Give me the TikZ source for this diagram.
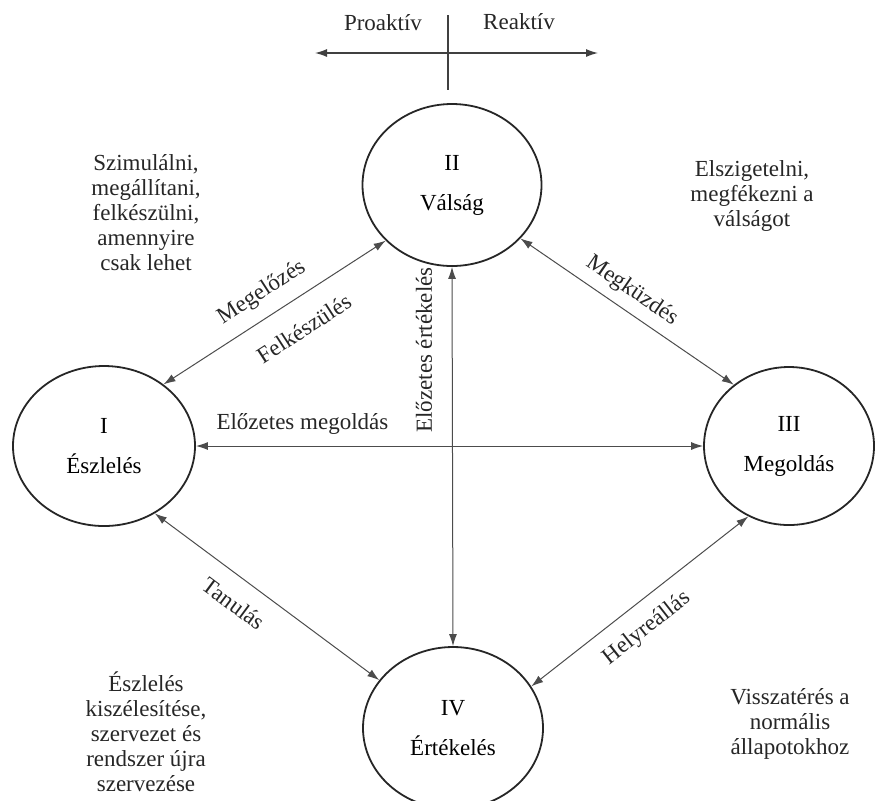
\documentclass[tikz,border=0pt]{standalone}
\usepackage{fontspec}
\setmainfont{Liberation Serif}
\usetikzlibrary{arrows.meta,shapes.geometric}
\tikzstyle{phase}=[draw=black!85, line width=0.9pt, ellipse, align=center, inner sep=0pt]
\tikzstyle{note}=[align=center, text=black!85]
\tikzstyle{link}=[{Latex[length=6pt,width=4pt]}-{Latex[length=6pt,width=4pt]}, draw=black!70, line width=0.5pt]
\tikzstyle{lab}=[sloped, text=black!85]

\begin{document}
\begin{tikzpicture}[x=0.5pt, y=-0.5pt, font=\fontsize{11.5}{12.5}\selectfont]
   \useasboundingbox (0,0) rectangle (876,800);

   % proactive / reactive cross
   \coordinate (pro) at (315,53);
   \coordinate (rea) at (598,53);
   \coordinate (vt) at (448,15);
   \coordinate (vb) at (448,90);
   \draw[{Latex[length=6pt,width=4pt]}-{Latex[length=6pt,width=4pt]}, draw=black!75, line width=0.6pt] (pro) -- (rea);
   \draw[draw=black!75, line width=0.6pt] (vt) -- (vb);
   \node[note] (proak) at (383,23) {Proaktív};
   \node[note] (reak) at (519,22) {Reaktív};

   % the four phases
   \node[phase, minimum width=91pt, minimum height=80pt] (I) at (104,446) {I\\[7.5pt]Észlelés};
   \node[phase, minimum width=89.5pt, minimum height=81pt] (II) at (452,185) {II\\[7.5pt]Válság};
   \node[phase, minimum width=85pt, minimum height=79pt] (III) at (789,446) {III\\[7.5pt]Megoldás};
   \node[phase, minimum width=90pt, minimum height=81pt] (IV) at (453,728) {IV\\[7.5pt]Értékelés};

   % texts beside the phases
   \node[note] (sim) at (146,213) {Szimulálni,\\megállítani,\\felkészülni,\\amennyire\\csak lehet};
   \node[note] (elsz) at (752,196) {Elszigetelni,\\megfékezni a\\válságot};
   \node[note] (eszl) at (146,732) {Észlelés\\kiszélesítése,\\szervezet és\\rendszer újra\\szervezése};
   \node[note] (vissza) at (790,724) {Visszatérés a\\normális\\állapotokhoz};

   % Draw line between each of the phases
   \draw[link] (I.46) -- (II.220)
      node[lab, pos=0.5, above=3pt] (megel) {Megelőzés}
      node[lab, pos=0.56, below=7pt] (felk) {Felkészülés};
   \draw[link] (II.322) -- (III.132) node[lab, pos=0.47, above=1pt] (megk) {Megküzdés};
   \draw[link] (I.307) -- (IV.147) node[lab, pos=0.42, below=5pt] (tan) {Tanulás};
   \draw[link] (IV.28) -- (III.240) node[lab, pos=0.46, below=4pt] (helyre) {Helyreállás};
   \draw[link] (IV.north) -- (II.south);
   \node[note, rotate=90] (elert) at (424,350) {Előzetes értékelés};
   \draw[link] (I.east) -- (III.west) node[lab, pos=0.21, above=2pt] (elmeg) {Előzetes megoldás};

\end{tikzpicture}
\end{document}
